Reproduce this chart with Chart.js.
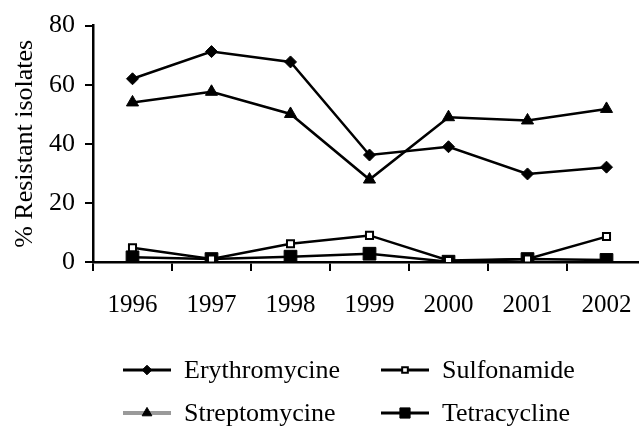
<!DOCTYPE html>
<html>
<head>
<meta charset="utf-8">
<script src="https://cdn.jsdelivr.net/npm/chart.js@4"></script>
<style>
  html, body { margin: 0; padding: 0; background: #fff; overflow: hidden; }
  #wrap { width: 639px; height: 428px; overflow: hidden; }
</style>
</head>
<body>
<div id="wrap"><canvas id="grafica" width="660" height="428"></canvas></div>
<script>
// años (eje X)
const years = ['1996', '1997', '1998', '1999', '2000', '2001', '2002'];
const yTicks = [0, 20, 40, 60, 80];

// % de aislados resistentes
const erythro = [62, 71.2, 67.7, 36.2, 39, 29.8, 32.1];
const strepto = [54, 57.6, 50.1, 27.9, 49, 47.9, 51.8];
const sulfon = [4.8, 1, 6.2, 9, 0.5, 1, 8.6];
const tetra = [1.6, 1, 1.8, 2.8, 0.1, 1, 0.7];

const fuente = "'Liberation Serif', 'Times New Roman', serif";

// leyenda dibujada a mano: linea + marcador + texto, en 2 columnas
const leyenda = {
  id: 'leyenda',
  afterDraw(chart) {
    const ctx = chart.ctx;
    const colX = [123, 381];
    const rowY = [370, 413];
    chart.data.datasets.forEach((ds, i) => {
      const x = colX[Math.floor(i / 2)];
      const y = rowY[i % 2];
      ctx.save();
      ctx.strokeStyle = ds.legendLine || '#000';
      ctx.lineWidth = ds.legendLine ? 4 : 3;
      ctx.beginPath();
      ctx.moveTo(x, y);
      ctx.lineTo(x + 48, y);
      ctx.stroke();
      ctx.fillStyle = ds.pointBackgroundColor;
      ctx.strokeStyle = ds.pointBorderColor;
      ctx.lineWidth = ds.pointBorderWidth;
      Chart.helpers.drawPoint(ctx, {
        pointStyle: ds.pointStyle,
        radius: ds.pointRadius * 0.8,
        rotation: 0,
        borderWidth: ds.pointBorderWidth
      }, x + 24, y);
      ctx.fillStyle = '#000';
      ctx.font = '26px ' + fuente;
      ctx.textAlign = 'left';
      ctx.textBaseline = 'middle';
      ctx.fillText(ds.label, x + 61, y + 1);
      ctx.restore();
    });
  }
};

function crearGrafica() {
  const ctx = document.getElementById('grafica').getContext('2d');
  return new Chart(ctx, {
    type: 'line',
    data: {
      labels: years,
      datasets: [
        {
          label: 'Erythromycine',
          data: erythro,
          borderColor: '#000',
          borderWidth: 2.5,
          pointStyle: 'rectRot',
          pointRadius: 6,
          pointBackgroundColor: '#000',
          pointBorderColor: '#000',
          pointBorderWidth: 1
        },
        {
          label: 'Streptomycine',
          data: strepto,
          borderColor: '#000',
          borderWidth: 2.5,
          pointStyle: 'triangle',
          pointRadius: 7,
          pointBackgroundColor: '#000',
          pointBorderColor: '#000',
          pointBorderWidth: 1,
          legendLine: '#9a9a9a'
        },
        {
          label: 'Sulfonamide',
          data: sulfon,
          borderColor: '#000',
          borderWidth: 2.5,
          pointStyle: 'rect',
          pointRadius: 5,
          pointBackgroundColor: '#fff',
          pointBorderColor: '#000',
          pointBorderWidth: 2
        },
        {
          label: 'Tetracycline',
          data: tetra,
          borderColor: '#000',
          borderWidth: 2.5,
          pointStyle: 'rect',
          pointRadius: 9,
          pointBackgroundColor: '#000',
          pointBorderColor: '#000',
          pointBorderWidth: 1
        }
      ]
    },
    options: {
      responsive: false,
      animation: false,
      layout: { padding: { top: 20, right: 14, left: 0, bottom: 0 } },
      scales: {
        x: {
          type: 'category',
          offset: true,
          afterFit: (s) => { s.height = 166; },
          grid: {
            offset: true,
            drawOnChartArea: false,
            drawTicks: true,
            tickLength: 9,
            color: '#000',
            lineWidth: 2
          },
          border: { display: true, color: '#000', width: 2.5 },
          ticks: {
            color: '#000',
            padding: 19,
            maxRotation: 0,
            font: { family: fuente, size: 25 }
          }
        },
        y: {
          min: 0,
          max: 80,
          afterFit: (s) => { s.width = 93; },
          afterBuildTicks: (s) => { s.ticks = yTicks.map(v => ({ value: v })); },
          grid: {
            drawOnChartArea: false,
            drawTicks: true,
            tickLength: 8,
            color: '#000',
            lineWidth: 2
          },
          border: { display: true, color: '#000', width: 2.5 },
          ticks: {
            color: '#000',
            padding: 10,
            font: { family: fuente, size: 26 }
          },
          title: {
            display: true,
            text: '% Resistant isolates',
            color: '#000',
            padding: { top: 10, bottom: 0 },
            font: { family: fuente, size: 26 }
          }
        }
      },
      plugins: {
        legend: { display: false },
        tooltip: { enabled: false }
      }
    },
    plugins: [leyenda]
  });
}

crearGrafica();
</script>
</body>
</html>
